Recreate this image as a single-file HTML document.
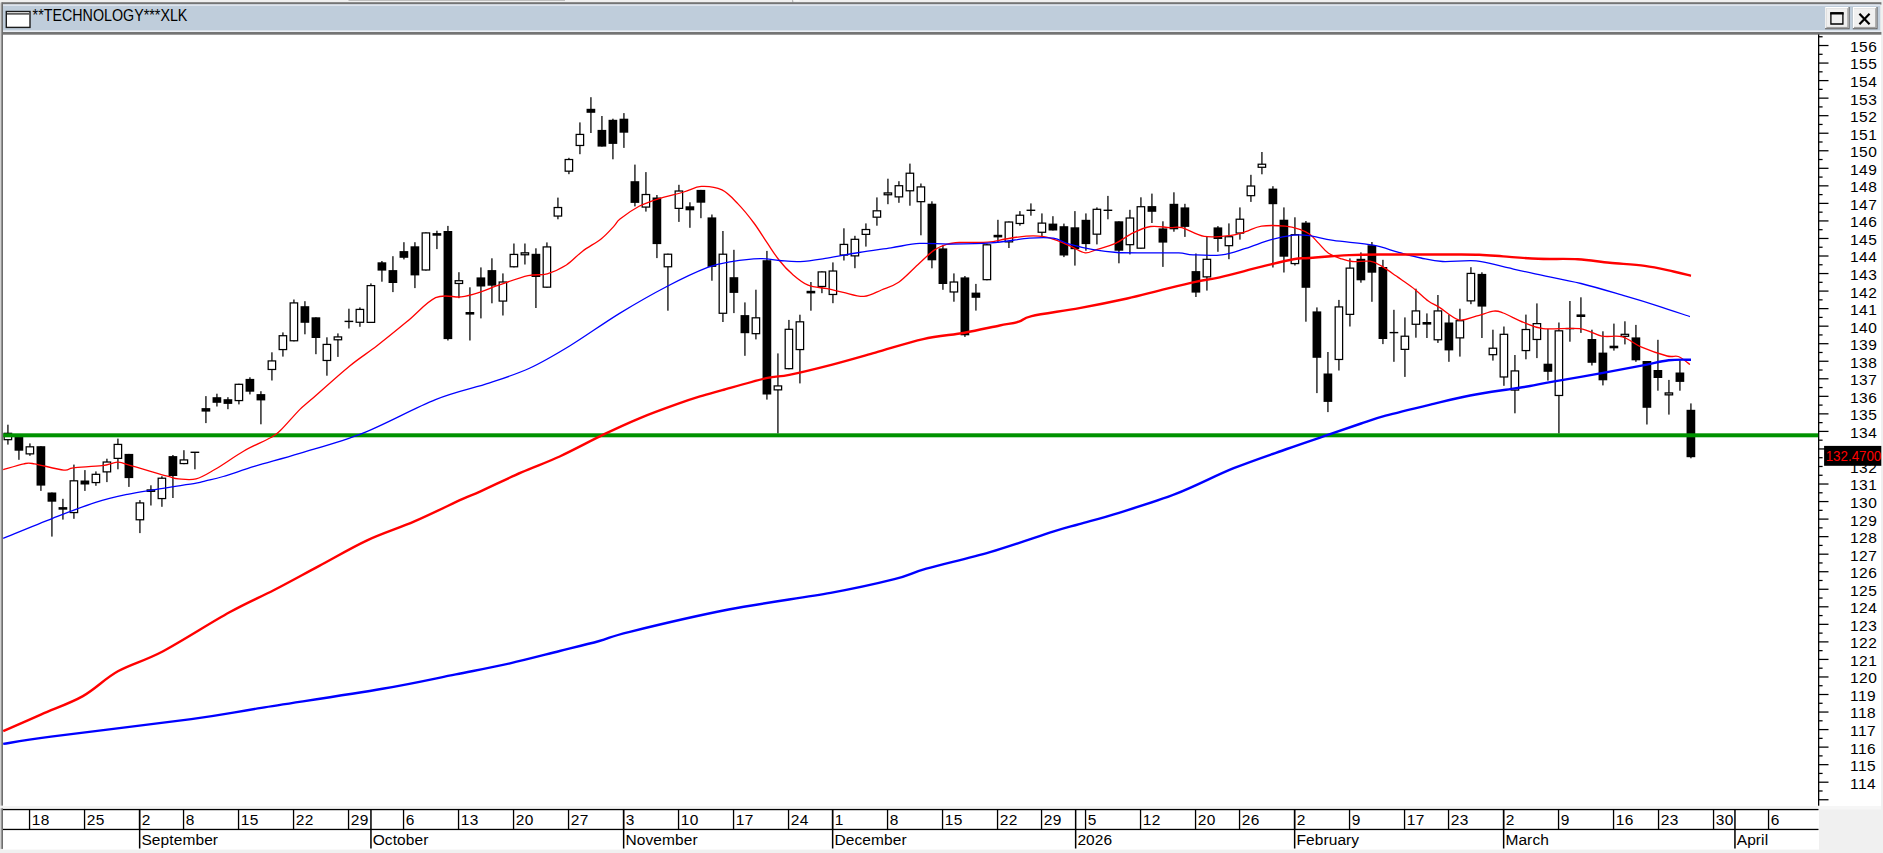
<!DOCTYPE html>
<html><head><meta charset="utf-8"><title>**TECHNOLOGY***XLK</title>
<style>
html,body{margin:0;padding:0;background:#f0f0f0;overflow:hidden}
body{width:1883px;height:853px}
svg{display:block;font-family:"Liberation Sans",sans-serif}
</style></head><body>
<svg width="1883" height="853" viewBox="0 0 1883 853">
<rect x="0.00" y="0.00" width="1883.00" height="853.00" fill="#f0f0f0"/>
<rect x="348.50" y="0.00" width="216.50" height="0.70" fill="#aaaaaa"/>
<rect x="792.10" y="0.00" width="1.30" height="2.50" fill="#b4b4b4"/>
<rect x="793.40" y="0.00" width="6.00" height="1.30" fill="#f8f8f8"/>
<rect x="3.00" y="34.00" width="1878.00" height="772.00" fill="#ffffff"/>
<rect x="3.00" y="806.00" width="1878.00" height="3.60" fill="#f6f6f6"/>
<rect x="3.00" y="806.30" width="1815.40" height="2.40" fill="#f4f4f4"/>
<rect x="3.00" y="808.60" width="1816.00" height="41.00" fill="#ffffff"/>
<rect x="1.40" y="2.20" width="1880.00" height="2.40" fill="#747474"/>
<rect x="0.00" y="2.60" width="1.00" height="803.00" fill="#d2d2d2"/>
<rect x="1.00" y="2.60" width="1.00" height="803.00" fill="#969696"/>
<rect x="2.00" y="2.60" width="1.00" height="803.00" fill="#6e6e6e"/>
<rect x="0.00" y="808.30" width="1.00" height="40.60" fill="#d2d2d2"/>
<rect x="1.00" y="808.30" width="1.00" height="40.60" fill="#969696"/>
<rect x="2.00" y="808.30" width="1.00" height="40.60" fill="#6e6e6e"/>
<rect x="3.00" y="4.50" width="1877.30" height="27.60" fill="#bfcddb"/>
<rect x="3.00" y="4.50" width="1877.30" height="1.30" fill="#e6ecf3"/>
<rect x="3.00" y="30.40" width="1877.30" height="1.60" fill="#e9eef4"/>
<rect x="3.00" y="32.00" width="1878.40" height="2.70" fill="#747474"/>
<g><rect x="5.60" y="10.80" width="25.10" height="17.30" fill="#1c1c1c"/>
<rect x="7.00" y="12.20" width="22.30" height="14.50" fill="#ffffff"/>
<rect x="7.00" y="13.20" width="22.30" height="1.40" fill="#3a3a3a"/>
</g>
<text x="32.6" y="21" font-size="15.6" textLength="154.8" lengthAdjust="spacingAndGlyphs" fill="#000">**TECHNOLOGY***XLK</text>
<rect x="1825.10" y="7.00" width="24.60" height="22.30" fill="#696969"/>
<rect x="1825.10" y="7.00" width="23.40" height="21.10" fill="#ffffff"/>
<rect x="1826.30" y="8.20" width="22.20" height="19.90" fill="#a0a0a0"/>
<rect x="1826.30" y="8.20" width="21.00" height="18.70" fill="#f0f0f0"/>
<rect x="1852.80" y="7.00" width="24.80" height="22.30" fill="#696969"/>
<rect x="1852.80" y="7.00" width="23.60" height="21.10" fill="#ffffff"/>
<rect x="1854.00" y="8.20" width="22.40" height="19.90" fill="#a0a0a0"/>
<rect x="1854.00" y="8.20" width="21.20" height="18.70" fill="#f0f0f0"/>
<path d="M1830.9 13.1H1842.9V24H1830.9Z" fill="none" stroke="#000" stroke-width="1.3"/>
<rect x="1830.20" y="12.10" width="13.40" height="2.40" fill="#000"/>
<path d="M1860.2 14.6L1868.8 23.4M1868.8 14.6L1860.2 23.4" fill="none" stroke="#000" stroke-width="2.2" stroke-linecap="square"/>
<rect x="1818.00" y="34.40" width="1.30" height="771.30" fill="#000"/>
<rect x="1818.00" y="36.13" width="4.60" height="1.25" fill="#000"/>
<rect x="1818.00" y="44.90" width="10.50" height="1.25" fill="#000"/>
<text x="1850.1" y="51.9" font-size="15.5" letter-spacing="0.4" fill="#000">156</text>
<rect x="1818.00" y="53.67" width="4.60" height="1.25" fill="#000"/>
<rect x="1818.00" y="62.44" width="10.50" height="1.25" fill="#000"/>
<text x="1850.1" y="69.4" font-size="15.5" letter-spacing="0.4" fill="#000">155</text>
<rect x="1818.00" y="71.21" width="4.60" height="1.25" fill="#000"/>
<rect x="1818.00" y="79.98" width="10.50" height="1.25" fill="#000"/>
<text x="1850.1" y="87.0" font-size="15.5" letter-spacing="0.4" fill="#000">154</text>
<rect x="1818.00" y="88.75" width="4.60" height="1.25" fill="#000"/>
<rect x="1818.00" y="97.52" width="10.50" height="1.25" fill="#000"/>
<text x="1850.1" y="104.5" font-size="15.5" letter-spacing="0.4" fill="#000">153</text>
<rect x="1818.00" y="106.29" width="4.60" height="1.25" fill="#000"/>
<rect x="1818.00" y="115.06" width="10.50" height="1.25" fill="#000"/>
<text x="1850.1" y="122.1" font-size="15.5" letter-spacing="0.4" fill="#000">152</text>
<rect x="1818.00" y="123.83" width="4.60" height="1.25" fill="#000"/>
<rect x="1818.00" y="132.60" width="10.50" height="1.25" fill="#000"/>
<text x="1850.1" y="139.6" font-size="15.5" letter-spacing="0.4" fill="#000">151</text>
<rect x="1818.00" y="141.37" width="4.60" height="1.25" fill="#000"/>
<rect x="1818.00" y="150.14" width="10.50" height="1.25" fill="#000"/>
<text x="1850.1" y="157.1" font-size="15.5" letter-spacing="0.4" fill="#000">150</text>
<rect x="1818.00" y="158.91" width="4.60" height="1.25" fill="#000"/>
<rect x="1818.00" y="167.68" width="10.50" height="1.25" fill="#000"/>
<text x="1850.1" y="174.7" font-size="15.5" letter-spacing="0.4" fill="#000">149</text>
<rect x="1818.00" y="176.45" width="4.60" height="1.25" fill="#000"/>
<rect x="1818.00" y="185.22" width="10.50" height="1.25" fill="#000"/>
<text x="1850.1" y="192.2" font-size="15.5" letter-spacing="0.4" fill="#000">148</text>
<rect x="1818.00" y="193.99" width="4.60" height="1.25" fill="#000"/>
<rect x="1818.00" y="202.76" width="10.50" height="1.25" fill="#000"/>
<text x="1850.1" y="209.8" font-size="15.5" letter-spacing="0.4" fill="#000">147</text>
<rect x="1818.00" y="211.53" width="4.60" height="1.25" fill="#000"/>
<rect x="1818.00" y="220.30" width="10.50" height="1.25" fill="#000"/>
<text x="1850.1" y="227.3" font-size="15.5" letter-spacing="0.4" fill="#000">146</text>
<rect x="1818.00" y="229.07" width="4.60" height="1.25" fill="#000"/>
<rect x="1818.00" y="237.84" width="10.50" height="1.25" fill="#000"/>
<text x="1850.1" y="244.8" font-size="15.5" letter-spacing="0.4" fill="#000">145</text>
<rect x="1818.00" y="246.61" width="4.60" height="1.25" fill="#000"/>
<rect x="1818.00" y="255.38" width="10.50" height="1.25" fill="#000"/>
<text x="1850.1" y="262.4" font-size="15.5" letter-spacing="0.4" fill="#000">144</text>
<rect x="1818.00" y="264.15" width="4.60" height="1.25" fill="#000"/>
<rect x="1818.00" y="272.92" width="10.50" height="1.25" fill="#000"/>
<text x="1850.1" y="279.9" font-size="15.5" letter-spacing="0.4" fill="#000">143</text>
<rect x="1818.00" y="281.69" width="4.60" height="1.25" fill="#000"/>
<rect x="1818.00" y="290.46" width="10.50" height="1.25" fill="#000"/>
<text x="1850.1" y="297.5" font-size="15.5" letter-spacing="0.4" fill="#000">142</text>
<rect x="1818.00" y="299.23" width="4.60" height="1.25" fill="#000"/>
<rect x="1818.00" y="308.00" width="10.50" height="1.25" fill="#000"/>
<text x="1850.1" y="315.0" font-size="15.5" letter-spacing="0.4" fill="#000">141</text>
<rect x="1818.00" y="316.77" width="4.60" height="1.25" fill="#000"/>
<rect x="1818.00" y="325.54" width="10.50" height="1.25" fill="#000"/>
<text x="1850.1" y="332.5" font-size="15.5" letter-spacing="0.4" fill="#000">140</text>
<rect x="1818.00" y="334.31" width="4.60" height="1.25" fill="#000"/>
<rect x="1818.00" y="343.08" width="10.50" height="1.25" fill="#000"/>
<text x="1850.1" y="350.1" font-size="15.5" letter-spacing="0.4" fill="#000">139</text>
<rect x="1818.00" y="351.85" width="4.60" height="1.25" fill="#000"/>
<rect x="1818.00" y="360.62" width="10.50" height="1.25" fill="#000"/>
<text x="1850.1" y="367.6" font-size="15.5" letter-spacing="0.4" fill="#000">138</text>
<rect x="1818.00" y="369.39" width="4.60" height="1.25" fill="#000"/>
<rect x="1818.00" y="378.16" width="10.50" height="1.25" fill="#000"/>
<text x="1850.1" y="385.2" font-size="15.5" letter-spacing="0.4" fill="#000">137</text>
<rect x="1818.00" y="386.93" width="4.60" height="1.25" fill="#000"/>
<rect x="1818.00" y="395.70" width="10.50" height="1.25" fill="#000"/>
<text x="1850.1" y="402.7" font-size="15.5" letter-spacing="0.4" fill="#000">136</text>
<rect x="1818.00" y="404.47" width="4.60" height="1.25" fill="#000"/>
<rect x="1818.00" y="413.24" width="10.50" height="1.25" fill="#000"/>
<text x="1850.1" y="420.2" font-size="15.5" letter-spacing="0.4" fill="#000">135</text>
<rect x="1818.00" y="422.01" width="4.60" height="1.25" fill="#000"/>
<rect x="1818.00" y="430.78" width="10.50" height="1.25" fill="#000"/>
<text x="1850.1" y="437.8" font-size="15.5" letter-spacing="0.4" fill="#000">134</text>
<rect x="1818.00" y="439.55" width="4.60" height="1.25" fill="#000"/>
<rect x="1818.00" y="448.32" width="10.50" height="1.25" fill="#000"/>
<rect x="1818.00" y="457.09" width="4.60" height="1.25" fill="#000"/>
<rect x="1818.00" y="465.86" width="4.60" height="1.25" fill="#000"/>
<text x="1850.1" y="472.9" font-size="15.5" letter-spacing="0.4" fill="#000">132</text>
<rect x="1818.00" y="474.63" width="4.60" height="1.25" fill="#000"/>
<rect x="1818.00" y="483.40" width="10.50" height="1.25" fill="#000"/>
<text x="1850.1" y="490.4" font-size="15.5" letter-spacing="0.4" fill="#000">131</text>
<rect x="1818.00" y="492.17" width="4.60" height="1.25" fill="#000"/>
<rect x="1818.00" y="500.94" width="10.50" height="1.25" fill="#000"/>
<text x="1850.1" y="507.9" font-size="15.5" letter-spacing="0.4" fill="#000">130</text>
<rect x="1818.00" y="509.71" width="4.60" height="1.25" fill="#000"/>
<rect x="1818.00" y="518.48" width="10.50" height="1.25" fill="#000"/>
<text x="1850.1" y="525.5" font-size="15.5" letter-spacing="0.4" fill="#000">129</text>
<rect x="1818.00" y="527.25" width="4.60" height="1.25" fill="#000"/>
<rect x="1818.00" y="536.02" width="10.50" height="1.25" fill="#000"/>
<text x="1850.1" y="543.0" font-size="15.5" letter-spacing="0.4" fill="#000">128</text>
<rect x="1818.00" y="544.79" width="4.60" height="1.25" fill="#000"/>
<rect x="1818.00" y="553.56" width="10.50" height="1.25" fill="#000"/>
<text x="1850.1" y="560.6" font-size="15.5" letter-spacing="0.4" fill="#000">127</text>
<rect x="1818.00" y="562.33" width="4.60" height="1.25" fill="#000"/>
<rect x="1818.00" y="571.10" width="10.50" height="1.25" fill="#000"/>
<text x="1850.1" y="578.1" font-size="15.5" letter-spacing="0.4" fill="#000">126</text>
<rect x="1818.00" y="579.87" width="4.60" height="1.25" fill="#000"/>
<rect x="1818.00" y="588.64" width="10.50" height="1.25" fill="#000"/>
<text x="1850.1" y="595.6" font-size="15.5" letter-spacing="0.4" fill="#000">125</text>
<rect x="1818.00" y="597.41" width="4.60" height="1.25" fill="#000"/>
<rect x="1818.00" y="606.18" width="10.50" height="1.25" fill="#000"/>
<text x="1850.1" y="613.2" font-size="15.5" letter-spacing="0.4" fill="#000">124</text>
<rect x="1818.00" y="614.95" width="4.60" height="1.25" fill="#000"/>
<rect x="1818.00" y="623.72" width="10.50" height="1.25" fill="#000"/>
<text x="1850.1" y="630.7" font-size="15.5" letter-spacing="0.4" fill="#000">123</text>
<rect x="1818.00" y="632.49" width="4.60" height="1.25" fill="#000"/>
<rect x="1818.00" y="641.26" width="10.50" height="1.25" fill="#000"/>
<text x="1850.1" y="648.3" font-size="15.5" letter-spacing="0.4" fill="#000">122</text>
<rect x="1818.00" y="650.03" width="4.60" height="1.25" fill="#000"/>
<rect x="1818.00" y="658.80" width="10.50" height="1.25" fill="#000"/>
<text x="1850.1" y="665.8" font-size="15.5" letter-spacing="0.4" fill="#000">121</text>
<rect x="1818.00" y="667.57" width="4.60" height="1.25" fill="#000"/>
<rect x="1818.00" y="676.34" width="10.50" height="1.25" fill="#000"/>
<text x="1850.1" y="683.3" font-size="15.5" letter-spacing="0.4" fill="#000">120</text>
<rect x="1818.00" y="685.11" width="4.60" height="1.25" fill="#000"/>
<rect x="1818.00" y="693.88" width="10.50" height="1.25" fill="#000"/>
<text x="1850.1" y="700.9" font-size="15.5" letter-spacing="0.4" fill="#000">119</text>
<rect x="1818.00" y="702.65" width="4.60" height="1.25" fill="#000"/>
<rect x="1818.00" y="711.42" width="10.50" height="1.25" fill="#000"/>
<text x="1850.1" y="718.4" font-size="15.5" letter-spacing="0.4" fill="#000">118</text>
<rect x="1818.00" y="720.19" width="4.60" height="1.25" fill="#000"/>
<rect x="1818.00" y="728.96" width="10.50" height="1.25" fill="#000"/>
<text x="1850.1" y="736.0" font-size="15.5" letter-spacing="0.4" fill="#000">117</text>
<rect x="1818.00" y="737.73" width="4.60" height="1.25" fill="#000"/>
<rect x="1818.00" y="746.50" width="10.50" height="1.25" fill="#000"/>
<text x="1850.1" y="753.5" font-size="15.5" letter-spacing="0.4" fill="#000">116</text>
<rect x="1818.00" y="755.27" width="4.60" height="1.25" fill="#000"/>
<rect x="1818.00" y="764.04" width="10.50" height="1.25" fill="#000"/>
<text x="1850.1" y="771.0" font-size="15.5" letter-spacing="0.4" fill="#000">115</text>
<rect x="1818.00" y="772.81" width="4.60" height="1.25" fill="#000"/>
<rect x="1818.00" y="781.58" width="10.50" height="1.25" fill="#000"/>
<text x="1850.1" y="788.6" font-size="15.5" letter-spacing="0.4" fill="#000">114</text>
<rect x="1818.00" y="790.35" width="4.60" height="1.25" fill="#000"/>
<rect x="1818.00" y="799.12" width="10.50" height="1.25" fill="#000"/>
<g id="candles">
<rect x="7.30" y="424.70" width="1.25" height="19.90" fill="#000"/>
<rect x="4.17" y="433.32" width="7.45" height="6.35" fill="#fff" stroke="#000" stroke-width="1.25"/>
<rect x="18.30" y="436.00" width="1.25" height="23.80" fill="#000"/>
<rect x="14.55" y="436.00" width="8.70" height="14.70" fill="#000"/>
<rect x="29.30" y="443.40" width="1.25" height="12.40" fill="#000"/>
<rect x="26.17" y="446.82" width="7.45" height="7.05" fill="#fff" stroke="#000" stroke-width="1.25"/>
<rect x="40.30" y="446.20" width="1.25" height="44.70" fill="#000"/>
<rect x="36.55" y="446.20" width="8.70" height="39.40" fill="#000"/>
<rect x="51.30" y="492.50" width="1.25" height="44.10" fill="#000"/>
<rect x="47.55" y="492.50" width="8.70" height="9.20" fill="#000"/>
<rect x="62.30" y="498.80" width="1.25" height="20.80" fill="#000"/>
<rect x="58.55" y="507.10" width="8.70" height="2.60" fill="#000"/>
<rect x="73.30" y="464.60" width="1.25" height="54.20" fill="#000"/>
<rect x="70.17" y="480.82" width="7.45" height="31.75" fill="#fff" stroke="#000" stroke-width="1.25"/>
<rect x="84.30" y="470.10" width="1.25" height="20.80" fill="#000"/>
<rect x="80.55" y="480.50" width="8.70" height="4.00" fill="#000"/>
<rect x="95.30" y="471.40" width="1.25" height="14.40" fill="#000"/>
<rect x="92.17" y="474.32" width="7.45" height="8.25" fill="#fff" stroke="#000" stroke-width="1.25"/>
<rect x="106.30" y="458.70" width="1.25" height="23.40" fill="#000"/>
<rect x="103.17" y="462.02" width="7.45" height="9.85" fill="#fff" stroke="#000" stroke-width="1.25"/>
<rect x="117.30" y="438.60" width="1.25" height="30.70" fill="#000"/>
<rect x="114.17" y="444.42" width="7.45" height="13.95" fill="#fff" stroke="#000" stroke-width="1.25"/>
<rect x="128.30" y="453.90" width="1.25" height="33.00" fill="#000"/>
<rect x="124.55" y="453.90" width="8.70" height="24.20" fill="#000"/>
<rect x="139.30" y="500.10" width="1.25" height="33.00" fill="#000"/>
<rect x="136.17" y="502.92" width="7.45" height="16.85" fill="#fff" stroke="#000" stroke-width="1.25"/>
<rect x="150.30" y="485.30" width="1.25" height="20.20" fill="#000"/>
<rect x="147.17" y="489.92" width="7.45" height="1.45" fill="#fff" stroke="#000" stroke-width="1.25"/>
<rect x="161.30" y="476.20" width="1.25" height="30.60" fill="#000"/>
<rect x="158.17" y="478.22" width="7.45" height="20.35" fill="#fff" stroke="#000" stroke-width="1.25"/>
<rect x="172.30" y="455.00" width="1.25" height="43.00" fill="#000"/>
<rect x="168.55" y="456.10" width="8.70" height="19.90" fill="#000"/>
<rect x="183.30" y="450.20" width="1.25" height="14.00" fill="#000"/>
<rect x="180.17" y="459.92" width="7.45" height="3.65" fill="#fff" stroke="#000" stroke-width="1.25"/>
<rect x="194.30" y="452.30" width="1.25" height="17.00" fill="#000"/>
<rect x="190.55" y="451.60" width="8.70" height="1.40" fill="#000"/>
<rect x="205.30" y="396.10" width="1.25" height="27.00" fill="#000"/>
<rect x="201.55" y="408.10" width="8.70" height="3.50" fill="#000"/>
<rect x="216.30" y="393.70" width="1.25" height="12.80" fill="#000"/>
<rect x="212.55" y="397.20" width="8.70" height="5.60" fill="#000"/>
<rect x="227.30" y="397.20" width="1.25" height="12.00" fill="#000"/>
<rect x="223.55" y="399.20" width="8.70" height="4.70" fill="#000"/>
<rect x="238.30" y="383.70" width="1.25" height="20.70" fill="#000"/>
<rect x="235.17" y="384.32" width="7.45" height="16.25" fill="#fff" stroke="#000" stroke-width="1.25"/>
<rect x="249.30" y="377.30" width="1.25" height="17.10" fill="#000"/>
<rect x="245.55" y="378.90" width="8.70" height="12.80" fill="#000"/>
<rect x="260.30" y="391.20" width="1.25" height="33.10" fill="#000"/>
<rect x="256.55" y="394.10" width="8.70" height="6.30" fill="#000"/>
<rect x="271.30" y="352.30" width="1.25" height="28.20" fill="#000"/>
<rect x="268.17" y="360.92" width="7.45" height="8.55" fill="#fff" stroke="#000" stroke-width="1.25"/>
<rect x="282.30" y="332.40" width="1.25" height="24.20" fill="#000"/>
<rect x="279.17" y="335.72" width="7.45" height="13.85" fill="#fff" stroke="#000" stroke-width="1.25"/>
<rect x="293.30" y="299.50" width="1.25" height="41.90" fill="#000"/>
<rect x="290.17" y="302.92" width="7.45" height="37.85" fill="#fff" stroke="#000" stroke-width="1.25"/>
<rect x="304.30" y="301.20" width="1.25" height="33.10" fill="#000"/>
<rect x="300.55" y="306.20" width="8.70" height="16.60" fill="#000"/>
<rect x="315.30" y="317.30" width="1.25" height="36.90" fill="#000"/>
<rect x="311.55" y="317.30" width="8.70" height="20.70" fill="#000"/>
<rect x="326.30" y="337.30" width="1.25" height="38.40" fill="#000"/>
<rect x="323.17" y="344.42" width="7.45" height="16.05" fill="#fff" stroke="#000" stroke-width="1.25"/>
<rect x="337.30" y="333.40" width="1.25" height="23.50" fill="#000"/>
<rect x="334.17" y="336.92" width="7.45" height="2.85" fill="#fff" stroke="#000" stroke-width="1.25"/>
<rect x="348.30" y="308.70" width="1.25" height="19.80" fill="#000"/>
<rect x="344.55" y="320.70" width="8.70" height="1.40" fill="#000"/>
<rect x="359.30" y="307.40" width="1.25" height="19.40" fill="#000"/>
<rect x="356.17" y="309.42" width="7.45" height="12.85" fill="#fff" stroke="#000" stroke-width="1.25"/>
<rect x="370.30" y="283.40" width="1.25" height="39.60" fill="#000"/>
<rect x="367.17" y="285.62" width="7.45" height="36.75" fill="#fff" stroke="#000" stroke-width="1.25"/>
<rect x="381.30" y="261.00" width="1.25" height="20.70" fill="#000"/>
<rect x="377.55" y="262.30" width="8.70" height="8.30" fill="#000"/>
<rect x="392.30" y="256.20" width="1.25" height="35.90" fill="#000"/>
<rect x="388.55" y="270.10" width="8.70" height="12.90" fill="#000"/>
<rect x="403.30" y="242.20" width="1.25" height="17.20" fill="#000"/>
<rect x="399.55" y="251.10" width="8.70" height="6.70" fill="#000"/>
<rect x="414.30" y="242.20" width="1.25" height="45.90" fill="#000"/>
<rect x="410.55" y="246.30" width="8.70" height="29.10" fill="#000"/>
<rect x="425.30" y="232.30" width="1.25" height="38.30" fill="#000"/>
<rect x="422.17" y="232.92" width="7.45" height="37.05" fill="#fff" stroke="#000" stroke-width="1.25"/>
<rect x="436.30" y="230.70" width="1.25" height="18.40" fill="#000"/>
<rect x="432.55" y="233.10" width="8.70" height="2.60" fill="#000"/>
<rect x="447.30" y="225.90" width="1.25" height="114.60" fill="#000"/>
<rect x="443.55" y="231.00" width="8.70" height="108.10" fill="#000"/>
<rect x="458.30" y="272.20" width="1.25" height="26.00" fill="#000"/>
<rect x="455.17" y="280.72" width="7.45" height="2.75" fill="#fff" stroke="#000" stroke-width="1.25"/>
<rect x="469.30" y="287.30" width="1.25" height="53.20" fill="#000"/>
<rect x="465.55" y="312.00" width="8.70" height="2.60" fill="#000"/>
<rect x="480.30" y="267.40" width="1.25" height="51.00" fill="#000"/>
<rect x="476.55" y="277.40" width="8.70" height="9.10" fill="#000"/>
<rect x="491.30" y="258.30" width="1.25" height="45.00" fill="#000"/>
<rect x="487.55" y="270.10" width="8.70" height="15.60" fill="#000"/>
<rect x="502.30" y="273.40" width="1.25" height="42.10" fill="#000"/>
<rect x="499.17" y="282.02" width="7.45" height="19.05" fill="#fff" stroke="#000" stroke-width="1.25"/>
<rect x="513.30" y="243.50" width="1.25" height="23.90" fill="#000"/>
<rect x="510.17" y="254.42" width="7.45" height="12.35" fill="#fff" stroke="#000" stroke-width="1.25"/>
<rect x="524.30" y="243.50" width="1.25" height="21.00" fill="#000"/>
<rect x="521.17" y="252.82" width="7.45" height="1.95" fill="#c4c4c4" stroke="#000" stroke-width="1.25"/>
<rect x="535.30" y="248.30" width="1.25" height="59.70" fill="#000"/>
<rect x="531.55" y="253.80" width="8.70" height="23.20" fill="#000"/>
<rect x="546.30" y="242.40" width="1.25" height="45.40" fill="#000"/>
<rect x="543.17" y="246.92" width="7.45" height="40.25" fill="#fff" stroke="#000" stroke-width="1.25"/>
<rect x="557.30" y="197.60" width="1.25" height="21.70" fill="#000"/>
<rect x="554.17" y="207.52" width="7.45" height="8.55" fill="#fff" stroke="#000" stroke-width="1.25"/>
<rect x="568.30" y="157.80" width="1.25" height="16.40" fill="#000"/>
<rect x="565.17" y="159.52" width="7.45" height="11.65" fill="#fff" stroke="#000" stroke-width="1.25"/>
<rect x="579.30" y="122.40" width="1.25" height="31.80" fill="#000"/>
<rect x="576.17" y="134.42" width="7.45" height="11.05" fill="#fff" stroke="#000" stroke-width="1.25"/>
<rect x="590.30" y="97.20" width="1.25" height="35.80" fill="#000"/>
<rect x="586.55" y="108.80" width="8.70" height="4.00" fill="#000"/>
<rect x="601.30" y="116.00" width="1.25" height="30.60" fill="#000"/>
<rect x="597.55" y="129.90" width="8.70" height="16.70" fill="#000"/>
<rect x="612.30" y="118.70" width="1.25" height="40.60" fill="#000"/>
<rect x="608.55" y="119.80" width="8.70" height="24.10" fill="#000"/>
<rect x="623.30" y="113.10" width="1.25" height="34.80" fill="#000"/>
<rect x="619.55" y="118.70" width="8.70" height="14.00" fill="#000"/>
<rect x="634.30" y="164.60" width="1.25" height="41.80" fill="#000"/>
<rect x="630.55" y="181.20" width="8.70" height="21.70" fill="#000"/>
<rect x="645.30" y="172.10" width="1.25" height="39.50" fill="#000"/>
<rect x="642.17" y="194.52" width="7.45" height="12.55" fill="#fff" stroke="#000" stroke-width="1.25"/>
<rect x="656.30" y="195.00" width="1.25" height="63.10" fill="#000"/>
<rect x="652.55" y="197.50" width="8.70" height="46.60" fill="#000"/>
<rect x="667.30" y="253.60" width="1.25" height="57.10" fill="#000"/>
<rect x="664.17" y="254.22" width="7.45" height="12.55" fill="#fff" stroke="#000" stroke-width="1.25"/>
<rect x="678.30" y="184.80" width="1.25" height="37.10" fill="#000"/>
<rect x="675.17" y="191.02" width="7.45" height="17.35" fill="#fff" stroke="#000" stroke-width="1.25"/>
<rect x="689.30" y="202.30" width="1.25" height="25.50" fill="#000"/>
<rect x="685.55" y="206.30" width="8.70" height="4.00" fill="#000"/>
<rect x="700.30" y="189.90" width="1.25" height="28.30" fill="#000"/>
<rect x="696.55" y="189.90" width="8.70" height="12.80" fill="#000"/>
<rect x="711.30" y="214.50" width="1.25" height="66.20" fill="#000"/>
<rect x="707.55" y="217.40" width="8.70" height="49.50" fill="#000"/>
<rect x="722.30" y="231.00" width="1.25" height="91.00" fill="#000"/>
<rect x="719.17" y="254.22" width="7.45" height="59.05" fill="#fff" stroke="#000" stroke-width="1.25"/>
<rect x="733.30" y="249.80" width="1.25" height="63.30" fill="#000"/>
<rect x="729.55" y="277.20" width="8.70" height="15.70" fill="#000"/>
<rect x="744.30" y="302.40" width="1.25" height="53.40" fill="#000"/>
<rect x="740.55" y="315.10" width="8.70" height="18.10" fill="#000"/>
<rect x="755.30" y="289.70" width="1.25" height="49.70" fill="#000"/>
<rect x="752.17" y="317.82" width="7.45" height="15.85" fill="#fff" stroke="#000" stroke-width="1.25"/>
<rect x="766.30" y="250.90" width="1.25" height="148.70" fill="#000"/>
<rect x="762.55" y="260.20" width="8.70" height="134.30" fill="#000"/>
<rect x="777.30" y="353.40" width="1.25" height="80.10" fill="#000"/>
<rect x="774.17" y="385.92" width="7.45" height="3.95" fill="#fff" stroke="#000" stroke-width="1.25"/>
<rect x="788.30" y="319.90" width="1.25" height="49.40" fill="#000"/>
<rect x="785.17" y="329.32" width="7.45" height="39.35" fill="#fff" stroke="#000" stroke-width="1.25"/>
<rect x="799.30" y="314.70" width="1.25" height="68.70" fill="#000"/>
<rect x="796.17" y="321.82" width="7.45" height="27.75" fill="#fff" stroke="#000" stroke-width="1.25"/>
<rect x="810.30" y="282.00" width="1.25" height="28.70" fill="#000"/>
<rect x="806.55" y="290.80" width="8.70" height="2.60" fill="#000"/>
<rect x="821.30" y="271.30" width="1.25" height="21.90" fill="#000"/>
<rect x="818.17" y="271.92" width="7.45" height="14.55" fill="#fff" stroke="#000" stroke-width="1.25"/>
<rect x="832.30" y="262.40" width="1.25" height="40.80" fill="#000"/>
<rect x="829.17" y="271.02" width="7.45" height="23.45" fill="#fff" stroke="#000" stroke-width="1.25"/>
<rect x="843.30" y="228.30" width="1.25" height="32.20" fill="#000"/>
<rect x="840.17" y="244.42" width="7.45" height="10.65" fill="#fff" stroke="#000" stroke-width="1.25"/>
<rect x="854.30" y="235.80" width="1.25" height="32.40" fill="#000"/>
<rect x="851.17" y="239.32" width="7.45" height="16.55" fill="#fff" stroke="#000" stroke-width="1.25"/>
<rect x="865.30" y="223.40" width="1.25" height="23.20" fill="#000"/>
<rect x="862.17" y="229.52" width="7.45" height="4.85" fill="#fff" stroke="#000" stroke-width="1.25"/>
<rect x="876.30" y="197.40" width="1.25" height="28.30" fill="#000"/>
<rect x="873.17" y="210.82" width="7.45" height="6.35" fill="#fff" stroke="#000" stroke-width="1.25"/>
<rect x="887.30" y="178.70" width="1.25" height="25.50" fill="#000"/>
<rect x="884.17" y="192.92" width="7.45" height="1.85" fill="#c4c4c4" stroke="#000" stroke-width="1.25"/>
<rect x="898.30" y="181.20" width="1.25" height="21.60" fill="#000"/>
<rect x="895.17" y="185.72" width="7.45" height="11.15" fill="#fff" stroke="#000" stroke-width="1.25"/>
<rect x="909.30" y="163.60" width="1.25" height="42.10" fill="#000"/>
<rect x="906.17" y="173.22" width="7.45" height="17.55" fill="#fff" stroke="#000" stroke-width="1.25"/>
<rect x="920.30" y="183.50" width="1.25" height="51.80" fill="#000"/>
<rect x="917.17" y="186.92" width="7.45" height="14.75" fill="#fff" stroke="#000" stroke-width="1.25"/>
<rect x="931.30" y="201.30" width="1.25" height="67.00" fill="#000"/>
<rect x="927.55" y="203.70" width="8.70" height="56.60" fill="#000"/>
<rect x="942.30" y="245.10" width="1.25" height="44.70" fill="#000"/>
<rect x="938.55" y="248.40" width="8.70" height="35.60" fill="#000"/>
<rect x="953.30" y="273.40" width="1.25" height="28.30" fill="#000"/>
<rect x="950.17" y="282.02" width="7.45" height="9.95" fill="#fff" stroke="#000" stroke-width="1.25"/>
<rect x="964.30" y="276.00" width="1.25" height="60.90" fill="#000"/>
<rect x="960.55" y="277.40" width="8.70" height="57.90" fill="#000"/>
<rect x="975.30" y="283.90" width="1.25" height="26.70" fill="#000"/>
<rect x="971.55" y="292.60" width="8.70" height="5.20" fill="#000"/>
<rect x="986.30" y="243.70" width="1.25" height="36.60" fill="#000"/>
<rect x="983.17" y="244.82" width="7.45" height="34.85" fill="#fff" stroke="#000" stroke-width="1.25"/>
<rect x="997.30" y="219.80" width="1.25" height="22.70" fill="#000"/>
<rect x="993.55" y="234.80" width="8.70" height="2.60" fill="#000"/>
<rect x="1008.30" y="221.40" width="1.25" height="26.60" fill="#000"/>
<rect x="1005.17" y="222.02" width="7.45" height="19.85" fill="#fff" stroke="#000" stroke-width="1.25"/>
<rect x="1019.30" y="211.10" width="1.25" height="14.60" fill="#000"/>
<rect x="1016.17" y="215.22" width="7.45" height="8.25" fill="#fff" stroke="#000" stroke-width="1.25"/>
<rect x="1030.30" y="203.40" width="1.25" height="12.30" fill="#000"/>
<rect x="1026.55" y="209.60" width="8.70" height="1.40" fill="#000"/>
<rect x="1041.30" y="213.40" width="1.25" height="22.70" fill="#000"/>
<rect x="1038.17" y="223.12" width="7.45" height="9.15" fill="#fff" stroke="#000" stroke-width="1.25"/>
<rect x="1052.30" y="216.20" width="1.25" height="14.30" fill="#000"/>
<rect x="1048.55" y="223.60" width="8.70" height="6.90" fill="#000"/>
<rect x="1063.30" y="223.60" width="1.25" height="33.50" fill="#000"/>
<rect x="1059.55" y="226.20" width="8.70" height="29.30" fill="#000"/>
<rect x="1074.30" y="211.10" width="1.25" height="54.50" fill="#000"/>
<rect x="1070.55" y="227.30" width="8.70" height="21.90" fill="#000"/>
<rect x="1085.30" y="213.40" width="1.25" height="37.30" fill="#000"/>
<rect x="1081.55" y="219.80" width="8.70" height="24.30" fill="#000"/>
<rect x="1096.30" y="207.40" width="1.25" height="37.00" fill="#000"/>
<rect x="1093.17" y="209.32" width="7.45" height="24.85" fill="#fff" stroke="#000" stroke-width="1.25"/>
<rect x="1107.30" y="195.90" width="1.25" height="23.40" fill="#000"/>
<rect x="1103.55" y="209.60" width="8.70" height="1.40" fill="#000"/>
<rect x="1118.30" y="221.30" width="1.25" height="42.00" fill="#000"/>
<rect x="1114.55" y="221.30" width="8.70" height="29.40" fill="#000"/>
<rect x="1129.30" y="209.80" width="1.25" height="44.60" fill="#000"/>
<rect x="1126.17" y="218.02" width="7.45" height="26.65" fill="#fff" stroke="#000" stroke-width="1.25"/>
<rect x="1140.30" y="197.30" width="1.25" height="51.50" fill="#000"/>
<rect x="1137.17" y="206.72" width="7.45" height="41.45" fill="#fff" stroke="#000" stroke-width="1.25"/>
<rect x="1151.30" y="193.60" width="1.25" height="29.40" fill="#000"/>
<rect x="1147.55" y="206.10" width="8.70" height="5.70" fill="#000"/>
<rect x="1162.30" y="221.30" width="1.25" height="45.60" fill="#000"/>
<rect x="1158.55" y="228.40" width="8.70" height="14.20" fill="#000"/>
<rect x="1173.30" y="192.30" width="1.25" height="39.40" fill="#000"/>
<rect x="1169.55" y="203.80" width="8.70" height="25.50" fill="#000"/>
<rect x="1184.30" y="203.80" width="1.25" height="33.10" fill="#000"/>
<rect x="1180.55" y="207.40" width="8.70" height="19.50" fill="#000"/>
<rect x="1195.30" y="253.50" width="1.25" height="43.50" fill="#000"/>
<rect x="1191.55" y="271.10" width="8.70" height="21.50" fill="#000"/>
<rect x="1206.30" y="236.40" width="1.25" height="54.20" fill="#000"/>
<rect x="1203.17" y="259.32" width="7.45" height="17.55" fill="#fff" stroke="#000" stroke-width="1.25"/>
<rect x="1217.30" y="226.10" width="1.25" height="25.70" fill="#000"/>
<rect x="1213.55" y="227.40" width="8.70" height="11.60" fill="#000"/>
<rect x="1228.30" y="223.40" width="1.25" height="35.80" fill="#000"/>
<rect x="1225.17" y="236.72" width="7.45" height="8.95" fill="#fff" stroke="#000" stroke-width="1.25"/>
<rect x="1239.30" y="207.40" width="1.25" height="32.20" fill="#000"/>
<rect x="1236.17" y="219.22" width="7.45" height="13.85" fill="#fff" stroke="#000" stroke-width="1.25"/>
<rect x="1250.30" y="174.80" width="1.25" height="27.10" fill="#000"/>
<rect x="1247.17" y="186.02" width="7.45" height="9.65" fill="#fff" stroke="#000" stroke-width="1.25"/>
<rect x="1261.30" y="152.00" width="1.25" height="22.30" fill="#000"/>
<rect x="1258.17" y="164.22" width="7.45" height="3.05" fill="#fff" stroke="#000" stroke-width="1.25"/>
<rect x="1272.30" y="186.20" width="1.25" height="81.30" fill="#000"/>
<rect x="1268.55" y="188.60" width="8.70" height="15.60" fill="#000"/>
<rect x="1283.30" y="207.40" width="1.25" height="65.10" fill="#000"/>
<rect x="1279.55" y="219.70" width="8.70" height="37.00" fill="#000"/>
<rect x="1294.30" y="217.30" width="1.25" height="48.20" fill="#000"/>
<rect x="1291.17" y="234.72" width="7.45" height="28.85" fill="#fff" stroke="#000" stroke-width="1.25"/>
<rect x="1305.30" y="221.00" width="1.25" height="100.70" fill="#000"/>
<rect x="1301.55" y="222.60" width="8.70" height="65.20" fill="#000"/>
<rect x="1316.30" y="307.40" width="1.25" height="85.70" fill="#000"/>
<rect x="1312.55" y="311.40" width="8.70" height="46.40" fill="#000"/>
<rect x="1327.30" y="352.00" width="1.25" height="60.10" fill="#000"/>
<rect x="1323.55" y="373.50" width="8.70" height="28.40" fill="#000"/>
<rect x="1338.30" y="299.90" width="1.25" height="70.60" fill="#000"/>
<rect x="1335.17" y="306.92" width="7.45" height="52.55" fill="#fff" stroke="#000" stroke-width="1.25"/>
<rect x="1349.30" y="258.40" width="1.25" height="68.10" fill="#000"/>
<rect x="1346.17" y="268.12" width="7.45" height="46.25" fill="#fff" stroke="#000" stroke-width="1.25"/>
<rect x="1360.30" y="252.40" width="1.25" height="30.30" fill="#000"/>
<rect x="1356.55" y="258.80" width="8.70" height="21.50" fill="#000"/>
<rect x="1371.30" y="242.00" width="1.25" height="59.80" fill="#000"/>
<rect x="1367.55" y="245.20" width="8.70" height="27.50" fill="#000"/>
<rect x="1382.30" y="259.80" width="1.25" height="84.30" fill="#000"/>
<rect x="1378.55" y="267.00" width="8.70" height="72.00" fill="#000"/>
<rect x="1393.30" y="309.80" width="1.25" height="52.00" fill="#000"/>
<rect x="1389.55" y="331.90" width="8.70" height="1.40" fill="#000"/>
<rect x="1404.30" y="317.40" width="1.25" height="59.50" fill="#000"/>
<rect x="1401.17" y="336.22" width="7.45" height="13.15" fill="#fff" stroke="#000" stroke-width="1.25"/>
<rect x="1415.30" y="288.70" width="1.25" height="49.00" fill="#000"/>
<rect x="1412.17" y="310.92" width="7.45" height="13.35" fill="#fff" stroke="#000" stroke-width="1.25"/>
<rect x="1426.30" y="313.40" width="1.25" height="24.60" fill="#000"/>
<rect x="1422.55" y="322.00" width="8.70" height="2.60" fill="#000"/>
<rect x="1437.30" y="295.00" width="1.25" height="47.90" fill="#000"/>
<rect x="1434.17" y="310.92" width="7.45" height="28.85" fill="#fff" stroke="#000" stroke-width="1.25"/>
<rect x="1448.30" y="314.60" width="1.25" height="47.20" fill="#000"/>
<rect x="1444.55" y="322.50" width="8.70" height="27.90" fill="#000"/>
<rect x="1459.30" y="308.70" width="1.25" height="47.90" fill="#000"/>
<rect x="1456.17" y="320.72" width="7.45" height="17.15" fill="#fff" stroke="#000" stroke-width="1.25"/>
<rect x="1470.30" y="267.20" width="1.25" height="37.00" fill="#000"/>
<rect x="1467.17" y="273.42" width="7.45" height="27.45" fill="#fff" stroke="#000" stroke-width="1.25"/>
<rect x="1481.30" y="272.30" width="1.25" height="65.70" fill="#000"/>
<rect x="1477.55" y="273.90" width="8.70" height="32.70" fill="#000"/>
<rect x="1492.30" y="329.70" width="1.25" height="30.90" fill="#000"/>
<rect x="1489.17" y="348.22" width="7.45" height="6.45" fill="#fff" stroke="#000" stroke-width="1.25"/>
<rect x="1503.30" y="326.50" width="1.25" height="59.30" fill="#000"/>
<rect x="1500.17" y="334.32" width="7.45" height="42.65" fill="#fff" stroke="#000" stroke-width="1.25"/>
<rect x="1514.30" y="355.00" width="1.25" height="58.30" fill="#000"/>
<rect x="1511.17" y="370.92" width="7.45" height="19.15" fill="#fff" stroke="#000" stroke-width="1.25"/>
<rect x="1525.30" y="314.60" width="1.25" height="44.70" fill="#000"/>
<rect x="1522.17" y="329.52" width="7.45" height="21.05" fill="#fff" stroke="#000" stroke-width="1.25"/>
<rect x="1536.30" y="303.40" width="1.25" height="54.70" fill="#000"/>
<rect x="1533.17" y="323.62" width="7.45" height="15.85" fill="#fff" stroke="#000" stroke-width="1.25"/>
<rect x="1547.30" y="328.90" width="1.25" height="51.70" fill="#000"/>
<rect x="1543.55" y="363.70" width="8.70" height="8.10" fill="#000"/>
<rect x="1558.30" y="322.50" width="1.25" height="111.00" fill="#000"/>
<rect x="1555.17" y="330.82" width="7.45" height="64.65" fill="#fff" stroke="#000" stroke-width="1.25"/>
<rect x="1569.30" y="301.00" width="1.25" height="40.70" fill="#000"/>
<rect x="1565.55" y="327.90" width="8.70" height="1.40" fill="#000"/>
<rect x="1580.30" y="297.30" width="1.25" height="35.60" fill="#000"/>
<rect x="1576.55" y="314.40" width="8.70" height="2.60" fill="#000"/>
<rect x="1591.30" y="329.70" width="1.25" height="35.80" fill="#000"/>
<rect x="1587.55" y="339.00" width="8.70" height="23.80" fill="#000"/>
<rect x="1602.30" y="331.30" width="1.25" height="54.10" fill="#000"/>
<rect x="1598.55" y="352.60" width="8.70" height="27.70" fill="#000"/>
<rect x="1613.30" y="323.60" width="1.25" height="27.00" fill="#000"/>
<rect x="1609.55" y="345.70" width="8.70" height="2.60" fill="#000"/>
<rect x="1624.30" y="321.30" width="1.25" height="23.10" fill="#000"/>
<rect x="1621.17" y="334.32" width="7.45" height="1.95" fill="#fff" stroke="#000" stroke-width="1.25"/>
<rect x="1635.30" y="324.90" width="1.25" height="36.90" fill="#000"/>
<rect x="1631.55" y="337.40" width="8.70" height="22.90" fill="#000"/>
<rect x="1646.30" y="361.00" width="1.25" height="63.50" fill="#000"/>
<rect x="1642.55" y="361.00" width="8.70" height="46.80" fill="#000"/>
<rect x="1657.30" y="339.80" width="1.25" height="50.90" fill="#000"/>
<rect x="1653.55" y="370.00" width="8.70" height="8.00" fill="#000"/>
<rect x="1668.30" y="379.90" width="1.25" height="34.70" fill="#000"/>
<rect x="1665.17" y="392.92" width="7.45" height="1.95" fill="#c4c4c4" stroke="#000" stroke-width="1.25"/>
<rect x="1679.30" y="360.20" width="1.25" height="30.50" fill="#000"/>
<rect x="1675.55" y="372.50" width="8.70" height="9.40" fill="#000"/>
<rect x="1690.30" y="403.40" width="1.25" height="54.90" fill="#000"/>
<rect x="1686.55" y="409.80" width="8.70" height="47.40" fill="#000"/>
</g>
<rect x="3.20" y="433.30" width="1815.00" height="4.00" fill="#009200"/>
<path d="M3.2 469.7C6.7 468.7 18.7 464.8 23.9 463.8C29.1 462.8 27.6 462.8 34.3 463.8C40.9 464.9 57.3 469.4 63.8 470.1C70.3 470.8 66.9 468.5 73.3 467.8C79.7 467.1 94.7 466.6 102.0 465.7C109.3 464.8 113.0 462.4 117.2 462.2C121.5 462.0 119.1 462.3 127.5 464.6C135.9 466.9 158.9 473.8 167.4 476.2C175.9 478.6 173.7 478.4 178.5 478.9C183.3 479.3 190.0 480.5 196.1 478.9C202.2 477.3 207.2 473.9 215.2 469.3C223.2 464.7 234.6 456.3 243.9 451.0C253.2 445.7 264.9 440.9 271.0 437.5C277.1 434.1 275.8 434.9 280.6 430.3C285.4 425.7 294.6 414.7 299.7 409.6C304.8 404.5 302.9 406.8 311.2 399.6C319.5 392.4 338.5 375.1 349.4 366.2C360.3 357.3 367.1 353.4 376.7 346.0C386.3 338.6 397.2 329.7 407.0 321.6C416.8 313.6 426.6 301.8 435.6 297.7C444.6 293.6 453.8 297.8 461.2 296.9C468.6 296.0 473.9 294.1 480.3 292.1C486.7 290.1 491.4 287.6 499.4 284.9C507.4 282.2 520.1 277.5 528.1 275.7C536.1 273.9 540.8 275.6 547.2 273.8C553.6 272.0 560.5 268.7 566.4 265.0C572.2 261.3 576.5 255.8 582.3 251.4C588.1 247.0 596.1 242.9 601.4 238.7C606.7 234.4 611.1 229.2 614.2 225.9C617.3 222.6 615.9 222.4 620.0 219.1C624.1 215.8 632.7 209.7 639.1 206.3C645.5 202.9 650.8 201.2 658.3 198.8C665.8 196.4 676.6 194.1 683.8 192.0C691.0 189.9 694.9 186.8 701.3 186.4C707.7 186.1 715.9 187.0 722.0 189.9C728.1 192.8 732.7 198.4 738.0 203.9C743.3 209.4 749.1 216.6 753.9 223.0C758.7 229.4 762.5 235.9 766.7 242.2C771.0 248.4 775.1 255.2 779.4 260.5C783.6 265.8 787.4 270.0 792.2 274.1C797.0 278.2 802.3 282.8 808.1 285.2C813.9 287.6 821.4 287.5 827.2 288.7C833.1 289.9 837.1 291.1 843.2 292.4C849.3 293.7 857.5 296.8 863.9 296.4C870.3 296.0 875.6 292.4 881.4 290.0C887.2 287.6 892.6 286.5 898.7 282.3C904.8 278.1 911.9 270.1 917.8 264.8C923.6 259.5 929.0 253.8 933.8 250.4C938.6 247.0 942.2 245.7 946.5 244.4C950.8 243.1 952.4 242.9 959.3 242.5C966.2 242.1 980.3 242.7 988.0 242.1C995.7 241.5 999.1 240.0 1005.5 239.0C1011.9 238.0 1019.8 236.5 1026.2 236.1C1032.6 235.7 1038.5 235.8 1043.8 236.6C1049.1 237.4 1053.3 239.1 1058.1 240.9C1062.9 242.7 1068.0 245.2 1072.5 247.2C1077.0 249.2 1081.2 252.4 1085.2 252.8C1089.2 253.2 1091.4 251.2 1096.4 249.6C1101.5 248.0 1109.4 246.1 1115.5 243.3C1121.6 240.5 1127.2 235.7 1133.0 232.9C1138.8 230.1 1144.5 227.4 1150.6 226.5C1156.7 225.6 1164.5 227.4 1169.7 227.6C1174.9 227.8 1176.2 226.2 1181.9 227.7C1187.7 229.2 1196.2 235.1 1204.2 236.4C1212.2 237.7 1222.8 236.4 1229.7 235.6C1236.6 234.8 1240.3 233.3 1245.6 231.7C1250.9 230.1 1254.9 227.0 1261.6 226.1C1268.2 225.2 1279.1 225.6 1285.5 226.1C1291.9 226.6 1295.8 228.0 1299.8 229.3C1303.8 230.6 1306.2 231.7 1309.4 234.1C1312.6 236.5 1315.8 240.4 1319.0 243.6C1322.2 246.8 1324.8 250.7 1328.5 253.2C1332.2 255.7 1337.3 257.4 1341.3 258.8C1345.3 260.2 1347.7 261.1 1352.5 261.5C1357.3 261.9 1365.2 260.5 1370.0 261.2C1374.8 261.9 1377.0 263.5 1381.2 265.9C1385.5 268.3 1392.2 273.2 1395.5 275.5C1398.8 277.8 1397.9 277.1 1401.2 279.5C1404.5 281.9 1411.0 286.3 1415.5 289.9C1420.0 293.5 1424.3 298.1 1428.3 301.0C1432.3 303.9 1434.4 304.3 1439.4 307.4C1444.4 310.5 1452.4 318.3 1458.5 319.8C1464.6 321.3 1470.2 317.6 1476.1 316.2C1481.9 314.8 1489.1 311.6 1493.6 311.1C1498.1 310.6 1498.2 311.1 1503.2 313.0C1508.2 314.9 1517.3 319.9 1523.9 322.5C1530.5 325.1 1533.7 327.6 1543.0 328.6C1552.3 329.6 1569.9 327.4 1579.7 328.6C1589.5 329.9 1594.6 334.7 1601.7 336.1C1608.8 337.5 1615.8 335.0 1622.5 336.9C1629.2 338.8 1634.2 344.0 1641.6 347.2C1649.0 350.4 1661.0 354.4 1667.1 356.0C1673.2 357.6 1674.5 355.1 1678.3 356.5C1682.1 357.9 1688.0 363.2 1689.9 364.5" fill="none" stroke="#ff0000" stroke-width="1.3" stroke-linejoin="round"/>
<path d="M3.2 538.3C11.4 535.0 37.2 524.3 52.6 518.3C68.0 512.3 83.1 506.3 95.6 502.3C108.1 498.3 116.9 496.5 127.5 494.3C138.1 492.1 148.0 490.8 159.4 488.9C170.8 487.0 188.4 484.5 196.1 483.2C203.8 481.9 201.1 481.9 205.6 480.8C210.1 479.7 214.9 478.9 223.2 476.5C231.4 474.1 242.3 470.1 255.1 466.2C267.9 462.3 281.7 458.9 299.7 453.4C317.7 447.9 340.4 442.1 363.0 433.1C385.6 424.1 414.4 408.0 435.5 399.6C456.6 391.2 473.9 388.2 489.7 382.9C505.4 377.6 516.7 374.1 530.0 368.0C543.3 361.9 554.6 355.1 569.6 346.0C584.6 336.9 603.6 323.1 620.0 313.1C636.4 303.1 653.2 293.6 667.8 286.0C682.4 278.4 697.1 271.5 707.7 267.4C718.3 263.3 722.8 263.1 731.6 261.6C740.4 260.1 752.3 258.8 760.3 258.6C768.3 258.4 772.8 260.0 779.4 260.5C786.0 261.0 792.1 262.0 800.1 261.6C808.1 261.2 817.4 259.6 827.2 258.1C837.0 256.6 848.5 254.2 859.1 252.5C869.7 250.8 880.9 249.3 891.0 247.8C901.1 246.3 909.9 244.0 919.7 243.4C929.5 242.8 937.8 244.2 949.7 244.1C961.6 244.0 977.9 243.9 991.2 242.9C1004.5 241.9 1019.1 239.0 1029.4 238.2C1039.8 237.4 1046.7 237.2 1053.3 238.2C1059.9 239.2 1062.6 242.2 1069.3 244.1C1076.0 246.0 1085.2 248.2 1093.2 249.6C1101.2 251.0 1107.6 251.9 1117.1 252.5C1126.6 253.1 1139.7 252.8 1150.0 252.9C1160.3 253.0 1171.5 252.6 1178.7 252.9C1185.9 253.2 1185.8 254.5 1193.0 254.8C1200.2 255.1 1212.9 255.9 1221.7 254.8C1230.5 253.7 1237.3 250.9 1245.6 248.4C1253.8 245.9 1263.2 241.8 1271.2 239.6C1279.2 237.4 1287.1 235.9 1293.5 235.2C1299.9 234.5 1302.8 234.7 1309.4 235.6C1316.0 236.5 1322.7 238.8 1333.3 240.4C1343.9 242.0 1362.3 243.2 1373.2 245.2C1384.1 247.2 1390.7 250.3 1398.7 252.4C1406.7 254.5 1413.7 256.5 1421.0 258.0C1428.3 259.5 1433.4 261.0 1442.6 261.5C1451.8 262.0 1466.0 259.9 1476.1 260.8C1486.2 261.7 1493.4 264.5 1503.2 266.7C1513.0 268.9 1522.1 271.1 1535.1 273.9C1548.1 276.7 1565.9 279.8 1581.0 283.5C1596.1 287.2 1613.0 292.5 1625.7 296.2C1638.5 299.9 1646.8 302.4 1657.5 305.8C1668.2 309.2 1684.5 314.8 1689.9 316.6" fill="none" stroke="#0000ff" stroke-width="1.3" stroke-linejoin="round"/>
<path d="M3.2 743.9C11.2 742.7 19.6 740.7 51.0 736.6C82.4 732.5 156.2 723.9 191.3 719.1C226.4 714.3 229.5 713.0 261.4 707.9C293.3 702.8 350.1 694.4 382.5 688.8C414.9 683.2 434.6 678.6 455.8 674.4C477.1 670.1 492.7 667.2 510.0 663.3C527.3 659.4 544.8 654.7 559.7 651.0C574.6 647.3 587.6 644.2 599.3 641.0C611.0 637.8 608.2 637.0 629.8 631.8C651.3 626.5 695.1 616.0 728.6 609.5C762.1 603.0 803.0 597.9 830.6 592.9C858.2 587.9 878.5 583.2 894.4 579.2C910.3 575.2 910.4 573.2 926.3 568.7C942.2 564.2 968.8 558.3 990.0 552.1C1011.2 545.9 1038.9 536.1 1053.8 531.4C1068.7 526.7 1068.4 527.2 1079.3 524.1C1090.2 521.0 1102.8 517.9 1119.0 512.8C1135.2 507.7 1157.2 501.1 1176.3 493.7C1195.4 486.3 1215.3 475.6 1233.7 468.2C1252.1 460.8 1271.2 454.5 1286.8 449.0C1302.4 443.5 1314.7 439.4 1327.1 435.2C1339.5 430.9 1351.3 426.8 1361.1 423.5C1370.8 420.2 1373.5 419.0 1385.6 415.7C1397.7 412.4 1419.4 407.2 1433.5 403.8C1447.6 400.4 1456.8 398.0 1470.1 395.5C1483.4 393.0 1503.2 390.2 1513.2 388.6C1523.2 387.0 1523.4 387.2 1530.0 386.0C1536.6 384.8 1541.0 383.8 1553.0 381.6C1565.0 379.5 1586.9 375.8 1601.7 373.1C1616.5 370.4 1630.4 367.7 1641.6 365.6C1652.8 363.5 1660.5 361.3 1668.7 360.3C1676.9 359.3 1687.3 359.8 1691.0 359.7" fill="none" stroke="#0000ff" stroke-width="2.4" stroke-linejoin="round"/>
<path d="M3.2 731.2C9.6 728.4 28.1 720.1 41.4 714.3C54.7 708.4 70.2 703.3 82.9 696.1C95.7 688.9 104.6 678.7 117.9 671.3C131.2 663.9 144.0 661.3 162.6 651.5C181.2 641.7 210.9 622.5 229.5 612.3C248.1 602.0 259.2 597.7 274.1 590.0C289.0 582.3 303.4 574.3 318.8 566.1C334.2 557.9 350.7 548.1 366.6 540.6C382.5 533.1 398.5 528.3 414.4 521.4C430.3 514.5 451.3 504.1 462.2 499.1C473.1 494.1 470.1 496.1 480.0 491.6C489.9 487.2 508.1 478.2 521.4 472.4C534.7 466.5 545.9 462.9 559.7 456.5C573.5 450.1 591.0 440.6 604.3 434.2C617.6 427.8 627.2 423.4 639.4 418.3C651.6 413.2 667.5 407.5 677.6 403.9C687.7 400.2 692.5 398.7 700.0 396.4C707.5 394.1 711.3 393.2 722.3 390.2C733.3 387.1 755.0 380.7 766.2 378.1C777.4 375.6 778.3 377.1 789.3 374.9C800.3 372.6 817.9 368.3 832.3 364.6C846.6 360.9 860.2 356.9 875.4 352.6C890.5 348.4 908.3 342.4 923.2 339.1C938.1 335.8 951.9 335.0 964.6 332.7C977.4 330.4 990.7 327.3 999.7 325.5C1008.7 323.7 1013.5 323.3 1018.8 321.7C1024.1 320.1 1021.5 318.4 1031.6 316.1C1041.7 313.8 1063.5 311.0 1079.4 308.1C1095.3 305.2 1113.9 301.4 1127.2 298.5C1140.5 295.6 1147.7 293.4 1159.1 290.6C1170.5 287.8 1185.4 284.0 1195.5 281.8C1205.6 279.6 1208.7 279.8 1219.7 277.3C1230.7 274.8 1249.3 269.7 1261.6 266.7C1273.9 263.7 1285.5 260.6 1293.5 259.2C1301.5 257.8 1300.1 258.7 1309.4 258.0C1318.7 257.3 1336.0 255.7 1349.3 255.1C1362.6 254.5 1372.4 254.6 1389.1 254.5C1405.8 254.4 1434.7 254.4 1449.7 254.5C1464.7 254.6 1470.4 254.5 1479.3 254.8C1488.2 255.1 1493.4 255.7 1503.2 256.4C1513.0 257.1 1525.9 258.3 1538.3 258.8C1550.7 259.3 1565.9 258.5 1577.8 259.2C1589.7 259.9 1598.5 261.7 1609.7 262.8C1620.9 263.9 1634.2 264.4 1644.8 265.9C1655.4 267.3 1665.8 269.9 1673.5 271.5C1681.2 273.1 1688.1 275.1 1691.0 275.8" fill="none" stroke="#ff0000" stroke-width="2.4" stroke-linejoin="round"/>
<rect x="1824.10" y="445.90" width="57.20" height="19.90" fill="#000"/>
<text x="1825.7" y="461.2" font-size="14" textLength="55.6" lengthAdjust="spacingAndGlyphs" fill="#ff0000">132.4700</text>
<rect x="3.00" y="808.90" width="1815.50" height="1.30" fill="#000"/>
<rect x="3.00" y="828.80" width="1815.50" height="1.30" fill="#000"/>
<rect x="28.90" y="809.00" width="1.30" height="20.50" fill="#000"/>
<text x="31.7" y="824.6" font-size="15.5" letter-spacing="0.4" fill="#000">18</text>
<rect x="83.90" y="809.00" width="1.30" height="20.50" fill="#000"/>
<text x="86.7" y="824.6" font-size="15.5" letter-spacing="0.4" fill="#000">25</text>
<rect x="138.90" y="809.00" width="1.30" height="20.50" fill="#000"/>
<text x="141.7" y="824.6" font-size="15.5" letter-spacing="0.4" fill="#000">2</text>
<rect x="182.90" y="809.00" width="1.30" height="20.50" fill="#000"/>
<text x="185.7" y="824.6" font-size="15.5" letter-spacing="0.4" fill="#000">8</text>
<rect x="237.90" y="809.00" width="1.30" height="20.50" fill="#000"/>
<text x="240.7" y="824.6" font-size="15.5" letter-spacing="0.4" fill="#000">15</text>
<rect x="292.90" y="809.00" width="1.30" height="20.50" fill="#000"/>
<text x="295.7" y="824.6" font-size="15.5" letter-spacing="0.4" fill="#000">22</text>
<rect x="347.90" y="809.00" width="1.30" height="20.50" fill="#000"/>
<text x="350.7" y="824.6" font-size="15.5" letter-spacing="0.4" fill="#000">29</text>
<rect x="402.90" y="809.00" width="1.30" height="20.50" fill="#000"/>
<text x="405.7" y="824.6" font-size="15.5" letter-spacing="0.4" fill="#000">6</text>
<rect x="457.90" y="809.00" width="1.30" height="20.50" fill="#000"/>
<text x="460.7" y="824.6" font-size="15.5" letter-spacing="0.4" fill="#000">13</text>
<rect x="512.90" y="809.00" width="1.30" height="20.50" fill="#000"/>
<text x="515.7" y="824.6" font-size="15.5" letter-spacing="0.4" fill="#000">20</text>
<rect x="567.90" y="809.00" width="1.30" height="20.50" fill="#000"/>
<text x="570.7" y="824.6" font-size="15.5" letter-spacing="0.4" fill="#000">27</text>
<rect x="622.90" y="809.00" width="1.30" height="20.50" fill="#000"/>
<text x="625.7" y="824.6" font-size="15.5" letter-spacing="0.4" fill="#000">3</text>
<rect x="677.90" y="809.00" width="1.30" height="20.50" fill="#000"/>
<text x="680.7" y="824.6" font-size="15.5" letter-spacing="0.4" fill="#000">10</text>
<rect x="732.90" y="809.00" width="1.30" height="20.50" fill="#000"/>
<text x="735.7" y="824.6" font-size="15.5" letter-spacing="0.4" fill="#000">17</text>
<rect x="787.90" y="809.00" width="1.30" height="20.50" fill="#000"/>
<text x="790.7" y="824.6" font-size="15.5" letter-spacing="0.4" fill="#000">24</text>
<rect x="831.90" y="809.00" width="1.30" height="20.50" fill="#000"/>
<text x="834.7" y="824.6" font-size="15.5" letter-spacing="0.4" fill="#000">1</text>
<rect x="886.90" y="809.00" width="1.30" height="20.50" fill="#000"/>
<text x="889.7" y="824.6" font-size="15.5" letter-spacing="0.4" fill="#000">8</text>
<rect x="941.90" y="809.00" width="1.30" height="20.50" fill="#000"/>
<text x="944.7" y="824.6" font-size="15.5" letter-spacing="0.4" fill="#000">15</text>
<rect x="996.90" y="809.00" width="1.30" height="20.50" fill="#000"/>
<text x="999.7" y="824.6" font-size="15.5" letter-spacing="0.4" fill="#000">22</text>
<rect x="1040.90" y="809.00" width="1.30" height="20.50" fill="#000"/>
<text x="1043.7" y="824.6" font-size="15.5" letter-spacing="0.4" fill="#000">29</text>
<rect x="1084.90" y="809.00" width="1.30" height="20.50" fill="#000"/>
<text x="1087.7" y="824.6" font-size="15.5" letter-spacing="0.4" fill="#000">5</text>
<rect x="1139.90" y="809.00" width="1.30" height="20.50" fill="#000"/>
<text x="1142.7" y="824.6" font-size="15.5" letter-spacing="0.4" fill="#000">12</text>
<rect x="1194.90" y="809.00" width="1.30" height="20.50" fill="#000"/>
<text x="1197.7" y="824.6" font-size="15.5" letter-spacing="0.4" fill="#000">20</text>
<rect x="1238.90" y="809.00" width="1.30" height="20.50" fill="#000"/>
<text x="1241.7" y="824.6" font-size="15.5" letter-spacing="0.4" fill="#000">26</text>
<rect x="1293.90" y="809.00" width="1.30" height="20.50" fill="#000"/>
<text x="1296.7" y="824.6" font-size="15.5" letter-spacing="0.4" fill="#000">2</text>
<rect x="1348.90" y="809.00" width="1.30" height="20.50" fill="#000"/>
<text x="1351.7" y="824.6" font-size="15.5" letter-spacing="0.4" fill="#000">9</text>
<rect x="1403.90" y="809.00" width="1.30" height="20.50" fill="#000"/>
<text x="1406.7" y="824.6" font-size="15.5" letter-spacing="0.4" fill="#000">17</text>
<rect x="1447.90" y="809.00" width="1.30" height="20.50" fill="#000"/>
<text x="1450.7" y="824.6" font-size="15.5" letter-spacing="0.4" fill="#000">23</text>
<rect x="1502.90" y="809.00" width="1.30" height="20.50" fill="#000"/>
<text x="1505.7" y="824.6" font-size="15.5" letter-spacing="0.4" fill="#000">2</text>
<rect x="1557.90" y="809.00" width="1.30" height="20.50" fill="#000"/>
<text x="1560.7" y="824.6" font-size="15.5" letter-spacing="0.4" fill="#000">9</text>
<rect x="1612.90" y="809.00" width="1.30" height="20.50" fill="#000"/>
<text x="1615.7" y="824.6" font-size="15.5" letter-spacing="0.4" fill="#000">16</text>
<rect x="1657.90" y="809.00" width="1.30" height="20.50" fill="#000"/>
<text x="1660.7" y="824.6" font-size="15.5" letter-spacing="0.4" fill="#000">23</text>
<rect x="1712.90" y="809.00" width="1.30" height="20.50" fill="#000"/>
<text x="1715.7" y="824.6" font-size="15.5" letter-spacing="0.4" fill="#000">30</text>
<rect x="1767.90" y="809.00" width="1.30" height="20.50" fill="#000"/>
<text x="1770.7" y="824.6" font-size="15.5" letter-spacing="0.4" fill="#000">6</text>
<rect x="138.90" y="809.00" width="1.50" height="39.50" fill="#000"/>
<text x="141.4" y="844.8" font-size="15.5" letter-spacing="0.1" fill="#000">September</text>
<rect x="370.20" y="809.00" width="1.50" height="39.50" fill="#000"/>
<text x="372.7" y="844.8" font-size="15.5" letter-spacing="0.1" fill="#000">October</text>
<rect x="622.90" y="809.00" width="1.50" height="39.50" fill="#000"/>
<text x="625.4" y="844.8" font-size="15.5" letter-spacing="0.1" fill="#000">November</text>
<rect x="831.90" y="809.00" width="1.50" height="39.50" fill="#000"/>
<text x="834.4" y="844.8" font-size="15.5" letter-spacing="0.1" fill="#000">December</text>
<rect x="1074.90" y="809.00" width="1.50" height="39.50" fill="#000"/>
<text x="1077.4" y="844.8" font-size="15.5" letter-spacing="0.1" fill="#000">2026</text>
<rect x="1293.90" y="809.00" width="1.50" height="39.50" fill="#000"/>
<text x="1296.4" y="844.8" font-size="15.5" letter-spacing="0.1" fill="#000">February</text>
<rect x="1502.90" y="809.00" width="1.50" height="39.50" fill="#000"/>
<text x="1505.4" y="844.8" font-size="15.5" letter-spacing="0.1" fill="#000">March</text>
<rect x="1734.20" y="809.00" width="1.50" height="39.50" fill="#000"/>
<text x="1736.7" y="844.8" font-size="15.5" letter-spacing="0.1" fill="#000">April</text>
</svg>
</body></html>
